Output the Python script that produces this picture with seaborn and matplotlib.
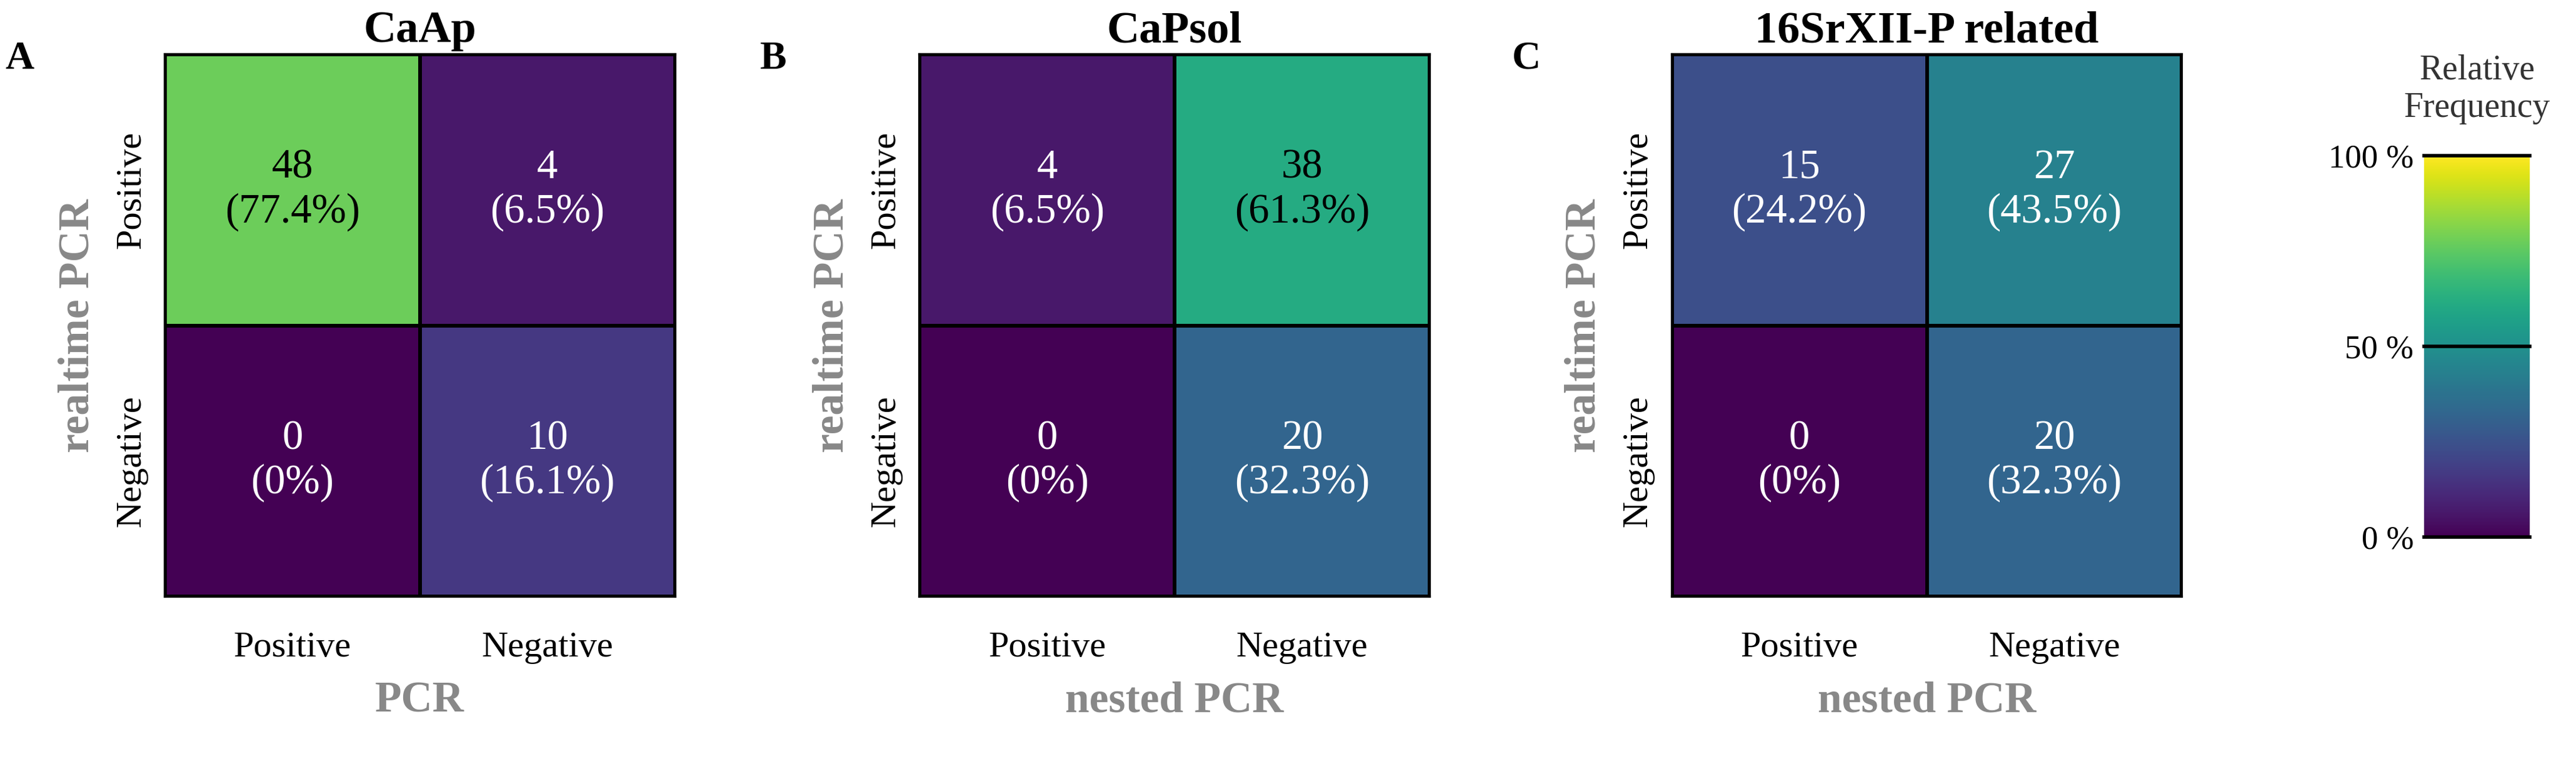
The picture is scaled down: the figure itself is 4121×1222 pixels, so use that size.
import numpy as np
import matplotlib
matplotlib.use("Agg")
import matplotlib.pyplot as plt
import seaborn as sns

titles = ["CaAp", "CaPsol", "16SrXII-P related"]
letters = ["A", "B", "C"]
xlabels = ["PCR", "nested PCR", "nested PCR"]
classes = ["Positive", "Negative"]
counts = [[[48, 4], [0, 10]], [[4, 38], [0, 20]], [[15, 27], [0, 20]]]
total = 62

plt.rcParams["font.family"] = "Liberation Serif"
fig = plt.figure(figsize=(41.21, 12.22), dpi=100)
lefts = [0.064, 0.357, 0.649]
cax = fig.add_axes([0.941, 0.297, 0.041, 0.499])
for i in range(3):
    ax = fig.add_axes([lefts[i], 0.219, 0.198, 0.71])
    c = np.array(counts[i])
    pct = c / total * 100
    ann = np.array([[f"{c[r, k]}\n({pct[r, k]:.1f}%)" if c[r, k] else "0\n(0%)"
                     for k in range(2)] for r in range(2)])
    sns.heatmap(pct, ax=ax, cmap="viridis", vmin=0, vmax=100, annot=ann, fmt="",
                annot_kws={"fontsize": 48}, linewidths=3, linecolor="black",
                cbar=(i == 0), cbar_ax=cax if i == 0 else None,
                xticklabels=classes, yticklabels=classes)
    for t, v in zip(ax.texts, pct.flatten()):
        t.set_color("black" if v > 55 else "white")
    for s in ax.spines.values():
        s.set_visible(True); s.set_linewidth(3)
    ax.set_title(titles[i], fontsize=52, fontweight="bold", pad=14)
    ax.set_xlabel(xlabels[i], fontsize=50, fontweight="bold", color="#888888", labelpad=20)
    ax.set_ylabel("realtime PCR", fontsize=50, fontweight="bold", color="#888888", labelpad=20)
    ax.tick_params(axis="x", labelsize=42, length=0, pad=40)
    ax.tick_params(axis="y", labelsize=42, length=0, pad=20)
    plt.setp(ax.get_yticklabels(), rotation=90, va="center")
    fig.text(lefts[i] - 0.062, 0.91, letters[i], fontsize=46, fontweight="bold")

cax.set_yticks([0, 50, 100])
cax.set_yticklabels(["0 %", "50 %", "100 %"])
cax.yaxis.set_ticks_position("left")
cax.tick_params(labelsize=38, length=0, pad=12)
for y in (0, 50, 100):
    cax.axhline(y, color="black", lw=4, clip_on=False)
for s in cax.spines.values():
    s.set_visible(False)
cax.set_title("Relative\nFrequency", fontsize=40, color="#333333", pad=45)
fig.savefig("out.png", dpi=100)
